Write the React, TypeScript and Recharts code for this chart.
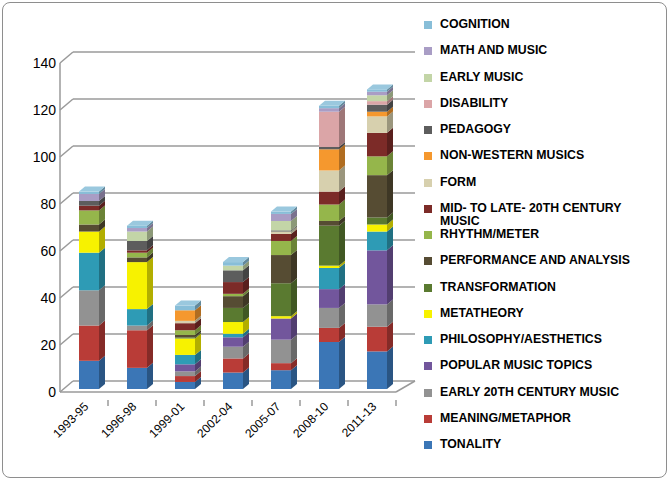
import { BarChart, Bar, XAxis, YAxis, CartesianGrid } from 'recharts';

const periods = ['1993-95', '1996-98', '1999-01', '2002-04', '2005-07', '2008-10', '2011-13'];

// values per topic, one entry per period
const tonality = [12, 9, 3, 7, 8, 20, 16];
const meaning = [15, 16, 2.5, 6, 3, 6, 10.5];
const early20th = [15, 2, 2, 5, 10, 8.5, 9.5];
const popular = [0, 0, 3, 4, 9, 8, 23];
const philosophy = [16, 7, 4, 1.5, 0, 9, 8];
const metatheory = [9, 20, 7, 5, 1, 1, 3];
const transformation = [0, 0, 0.5, 6, 14, 17, 3];
const performance = [3, 2, 1, 5, 12, 2, 18];
const rhythm = [6, 2, 2, 1, 6, 7, 8];
const midLate = [2, 1, 3, 5, 3, 5.5, 10];
const form = [0, 0, 1, 0, 1, 9, 7];
const nonWestern = [0, 0, 4.5, 0, 0, 9, 2];
const pedagogy = [2, 4, 0, 5, 0.5, 1, 3];
const disability = [0, 0, 0, 0, 0, 15, 1.5];
const earlyMusic = [0, 4, 0, 2, 4, 0, 2.5];
const mathMusic = [3, 1.5, 0, 0, 3, 1.5, 1.5];
const cognition = [1, 1, 2, 1.5, 1, 1, 1];

const yTicks = [0, 20, 40, 60, 80, 100, 120, 140];

// bottom to top of the stack
const series = [
  { key: 'tonality', name: 'TONALITY', color: '#3b76b6', values: tonality },
  { key: 'meaning', name: 'MEANING/METAPHOR', color: '#b93c37', values: meaning },
  { key: 'early20th', name: 'EARLY 20TH CENTURY MUSIC', color: '#929292', values: early20th },
  { key: 'popular', name: 'POPULAR MUSIC TOPICS', color: '#72569c', values: popular },
  { key: 'philosophy', name: 'PHILOSOPHY/AESTHETICS', color: '#2e9bb5', values: philosophy },
  { key: 'metatheory', name: 'METATHEORY', color: '#f7f200', values: metatheory },
  { key: 'transformation', name: 'TRANSFORMATION', color: '#5a7a30', values: transformation },
  { key: 'performance', name: 'PERFORMANCE AND ANALYSIS', color: '#564c33', values: performance },
  { key: 'rhythm', name: 'RHYTHM/METER', color: '#95b64b', values: rhythm },
  { key: 'midLate', name: 'MID- TO LATE- 20TH CENTURY MUSIC', color: '#7c2b28', values: midLate },
  { key: 'form', name: 'FORM', color: '#d7d0ae', values: form },
  { key: 'nonWestern', name: 'NON-WESTERN MUSICS', color: '#f5982e', values: nonWestern },
  { key: 'pedagogy', name: 'PEDAGOGY', color: '#5d5d5d', values: pedagogy },
  { key: 'disability', name: 'DISABILITY', color: '#dba5a7', values: disability },
  { key: 'earlyMusic', name: 'EARLY MUSIC', color: '#c3d5a7', values: earlyMusic },
  { key: 'mathMusic', name: 'MATH AND MUSIC', color: '#a99dc5', values: mathMusic },
  { key: 'cognition', name: 'COGNITION', color: '#88bed8', values: cognition },
];

const data = periods.map((period, i) => {
  const row: Record<string, string | number> = { period };
  series.forEach((s) => {
    row[s.key] = s.values[i];
  });
  return row;
});

const FONT = '"Liberation Sans", Arial, sans-serif';
const DEPTH_X = 6;
const DEPTH_Y = 5;

function shade(hex: string, f: number) {
  const n = parseInt(hex.slice(1), 16);
  const ch = [(n >> 16) & 255, (n >> 8) & 255, n & 255].map((c) =>
    Math.max(0, Math.min(255, Math.round(f < 1 ? c * f : c + (255 - c) * (f - 1))))
  );
  return `rgb(${ch[0]},${ch[1]},${ch[2]})`;
}

function Block(props: any) {
  const { x, y, width, height, fill, isTop } = props;
  if (!height || height <= 0) return <g />;
  const bx = x + 5;
  const by = y - 3;
  const r = bx + width;
  return (
    <g>
      <rect x={bx} y={by} width={width} height={height} fill={fill} />
      <polygon
        points={`${r},${by} ${r + DEPTH_X},${by - DEPTH_Y} ${r + DEPTH_X},${by + height - DEPTH_Y} ${r},${by + height}`}
        fill={shade(fill, 0.72)}
      />
      {isTop && (
        <polygon
          points={`${bx},${by} ${bx + DEPTH_X},${by - DEPTH_Y} ${r + DEPTH_X},${by - DEPTH_Y} ${r},${by}`}
          fill={shade(fill, 1.15)}
        />
      )}
    </g>
  );
}

function GridLine(props: any) {
  const { x1, x2, y1, index } = props;
  const isFloor = Math.abs(y1 - 392) < 1;
  return (
    <g key={`grid-${index}`}>
      <line x1={x1} y1={y1} x2={x1 + 13} y2={y1 - 11} stroke="#9a9a9a" strokeWidth={1.5} />
      <line x1={x1 + 13} y1={y1 - 11} x2={x2 + 19} y2={y1 - 11} stroke="#9a9a9a" strokeWidth={1.5} />
      {isFloor && (
        <line x1={x2} y1={y1} x2={x2 + 19} y2={y1 - 11} stroke="#9a9a9a" strokeWidth={1.5} />
      )}
    </g>
  );
}

function XTick(props: any) {
  const { x, y, payload } = props;
  return (
    <g>
      <line x1={x + 24} y1={y} x2={x + 24} y2={y + 6} stroke="#9a9a9a" strokeWidth={1.5} />
      <text
        x={0}
        y={0}
        textAnchor="end"
        dominantBaseline="middle"
        transform={`translate(${x + 3},${y + 5}) rotate(-45)`}
        fontSize={12}
        fontFamily={FONT}
        fill="#000"
      >
        {payload.value}
      </text>
    </g>
  );
}

function YTick(props: any) {
  const { y, payload } = props;
  return (
    <text x={56} y={y} dy={5} textAnchor="end" fontSize={14} fontFamily={FONT} fill="#000">
      {payload.value}
    </text>
  );
}

function LegendBox() {
  const items = [...series].reverse();
  return (
    <div style={{ position: 'absolute', left: 424, top: 18, width: 240, height: 460 }}>
      {items.map((s, i) => (
        <div
          key={s.key}
          style={{
            position: 'absolute',
            top: i * 26.25,
            left: 0,
            display: 'flex',
            alignItems: 'flex-start',
          }}
        >
          <div style={{ width: 8, height: 8, background: s.color, marginTop: 3, marginRight: 8 }} />
          <div
            style={{
              fontFamily: FONT,
              fontWeight: 'bold',
              fontSize: 12.3,
              lineHeight: '13px',
              color: '#000',
              width: 196,
            }}
          >
            {s.name}
          </div>
        </div>
      ))}
    </div>
  );
}

export default function App() {
  return (
    <div style={{ position: 'fixed', left: 0, top: 0, width: 670, height: 482, background: '#fff' }}>
      <div
        style={{
          position: 'absolute',
          left: 2,
          top: 2,
          width: 663,
          height: 474,
          border: '1px solid #8e8e8e',
          borderRadius: 8,
        }}
      />
      <BarChart
        width={420}
        height={482}
        data={data}
        margin={{ top: 63, right: 24, left: 0, bottom: 0 }}
        barSize={20}
        style={{ position: 'absolute', left: 0, top: 0 }}
      >
        <CartesianGrid vertical={false} horizontal={(p: any) => <GridLine {...p} />} />
        <XAxis
          dataKey="period"
          height={90}
          interval={0}
          tickLine={false}
          axisLine={{ stroke: '#9a9a9a', strokeWidth: 1.5 }}
          tick={<XTick />}
        />
        <YAxis
          width={60}
          domain={[0, 140]}
          ticks={yTicks}
          interval={0}
          tickLine={false}
          axisLine={{ stroke: '#9a9a9a', strokeWidth: 1.5 }}
          tick={<YTick />}
        />
        {series.map((s, i) => (
          <Bar
            key={s.key}
            dataKey={s.key}
            name={s.name}
            stackId="a"
            fill={s.color}
            isAnimationActive={false}
            shape={(p: any) => <Block {...p} isTop={i === series.length - 1} />}
          />
        ))}
      </BarChart>
      <LegendBox />
    </div>
  );
}
